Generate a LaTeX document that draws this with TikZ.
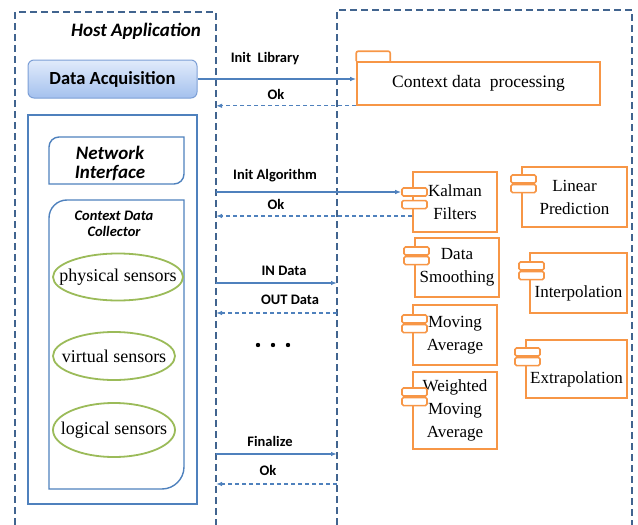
\documentclass[tikz,border=0pt]{standalone}
\usepackage{fontspec}
\setmainfont{Liberation Serif}
\newfontfamily\calibri{Carlito}
\usepackage{tikz}
\usetikzlibrary{arrows.meta,shapes.geometric}

\definecolor{frameblue}{HTML}{41648F}
\definecolor{lineblue}{HTML}{4F81BD}
\definecolor{boxorange}{HTML}{F79646}
\definecolor{sensgreen}{HTML}{9BBB59}
\definecolor{acqtop}{HTML}{E1EBFB}
\definecolor{acqbot}{HTML}{A4C1EE}
\definecolor{acqline}{HTML}{7C9FD6}

% two little tabs of a component box
\newcommand{\comptabs}[3]{%
  \node[comptab, anchor=north west] (#1t1) at ([xshift=-11pt,yshift=-#2pt]#1.north west) {};
  \node[comptab, anchor=north west] (#1t2) at ([yshift=-#3pt]#1t1.south west) {};
}

\begin{document}
\begin{tikzpicture}[x=1pt, y=-1pt,
    frame/.style={frameblue, line width=1.4pt, dash pattern=on 7pt off 4pt},
    box/.style={lineblue, line width=1.4pt},
    msg/.style={lineblue, line width=1.3pt, -{Latex[length=6pt,width=4.5pt]}},
    reply/.style={msg, dash pattern=on 4pt off 3pt},
    lbl/.style={font=\calibri\bfseries\fontsize{14.5}{16}\selectfont},
    head/.style={font=\calibri\bfseries\itshape\fontsize{19}{19}\selectfont, align=center},
    comp/.style={draw=boxorange, line width=1.6pt, fill=white, align=center, inner sep=0pt,
      font=\fontsize{17}{23}\selectfont},
    comptab/.style={draw=boxorange, line width=1.6pt, fill=white, minimum width=25pt,
      minimum height=8pt, inner sep=0pt, rounded corners=1.5pt},
    sensor/.style={ellipse, draw=sensgreen, line width=1.8pt, inner sep=0pt},
    sensortext/.style={font=\fontsize{18}{20}\selectfont}]
  \useasboundingbox (0,0) rectangle (638,525);

  % frames
  \draw[frame] (15,525) -- (15,12) -- (216,12) -- (216,525);
  \draw[frame] (337,525) -- (337,10) -- (632,10) -- (632,525);
  \coordinate (hostR) at (216,0);
  \coordinate (procL) at (337,0);

  % host side
  \node[head] (host) at (136,31) {Host Application};
  \node[draw=acqline, line width=1pt, rounded corners=6pt, top color=acqtop, bottom color=acqbot,
    minimum width=169pt, minimum height=38pt, font=\calibri\bfseries\fontsize{18.5}{20}\selectfont]
    (daq) at (112.5,79) {Data Acquisition\hspace{12pt}};
  \draw[box] (28,115) rectangle (197,504);
  \draw[box] (49,184) -- (49,147) .. controls (49,141.5) and (53.5,137) .. (59,137) -- (184,137)
    -- (184,174) .. controls (184,179.5) and (179.5,184) .. (174,184) -- cycle;
  \node[head] (netif) at (110,163) {Network\\Interface};
  \draw[box] (49,489) -- (49,218) .. controls (49,208) and (57,200) .. (67,200) -- (184,200)
    -- (184,467) .. controls (184,479) and (174,489) .. (162,489) -- cycle;
  \node[head, font=\calibri\bfseries\itshape\fontsize{14.5}{16}\selectfont] (cdc) at (114,224) {Context Data\\Collector};
  \node[sensor, minimum width=130pt, minimum height=47pt,
    label={[sensortext]center:physical sensors}] (phys) at (118,277) {};
  \node[sensor, minimum width=122pt, minimum height=48pt,
    label={[sensortext]center:virtual sensors}] (virt) at (114,356) {};
  \node[sensor, minimum width=122pt, minimum height=54pt,
    label={[sensortext]center:logical sensors}] (logi) at (114,430) {};

  % processing side
  \node[comp, minimum width=243pt, minimum height=43pt, font=\fontsize{17.5}{23}\selectfont]
    (cdp) at (478.5,83.5) {Context data~ processing};
  \draw[boxorange, line width=1.6pt, rounded corners=2pt] (cdp.north west) -- ++(0,-10) -- ++(34,0) -- ++(0,10);
  \node[comp, minimum width=84pt, minimum height=60pt] (kf) at (455,202) {Kalman\\Filters};
  \node[comp, minimum width=105pt, minimum height=60pt] (lp) at (574.5,197) {Linear\\Prediction};
  \node[comp, minimum width=84pt, minimum height=59pt] (ds) at (457,267.5) {Data\\Smoothing};
  \node[comp, minimum width=97pt, minimum height=60pt,
    label={[font=\fontsize{17}{23}\selectfont, yshift=-10pt]center:Interpolation}] (ip) at (578.5,283) {};
  \node[comp, minimum width=84pt, minimum height=60pt] (ma) at (455,335) {Moving\\Average};
  \node[comp, minimum width=101pt, minimum height=58pt,
    label={[font=\fontsize{17}{23}\selectfont, yshift=-10pt]center:Extrapolation}] (ex) at (576.5,369) {};
  \node[comp, minimum width=84pt, minimum height=77pt] (wma) at (455,410.5) {Weighted\\Moving\\Average};
  \comptabs{kf}{16}{3}
  \comptabs{lp}{8}{0}
  \comptabs{ds}{9}{0}
  \comptabs{ip}{9}{0}
  \comptabs{ma}{10}{0}
  \comptabs{ex}{8}{0}
  \comptabs{wma}{16}{0}

  % messages
  \draw[msg] (daq.east) -- (daq.east -| cdp.west);
  \draw[reply] (cdp.south west) -- (cdp.south west -| hostR);
  \draw[msg] (kft1.west -| hostR) -- (kft1.west);
  \draw[reply] ([yshift=-14pt]kf.west) -- ([yshift=-14pt]kf.west -| hostR);
  \draw[msg] (hostR |- 0,283) -- (procL |- 0,283);
  \draw[reply] (procL |- 0,313) -- (hostR |- 0,313);
  \draw[msg] (hostR |- 0,454) -- (procL |- 0,454);
  \draw[reply] (procL |- 0,484) -- (hostR |- 0,484);
  \node[lbl] (llib) at (265,59) {Init\ \ Library};
  \node[lbl] (lok1) at (276,94) {Ok};
  \node[lbl] (lalg) at (275,176) {Init Algorithm};
  \node[lbl] (lok2) at (276,204) {Ok};
  \node[lbl] (lin) at (284,271) {IN Data};
  \node[lbl] (lout) at (290,300) {OUT Data};
  \node[lbl] (lfin) at (270,441) {Finalize};
  \node[lbl] (lok3) at (268,470) {Ok};
  \foreach \x in {258,273,288} \fill (\x,345) circle (2.2);
\end{tikzpicture}
\end{document}
